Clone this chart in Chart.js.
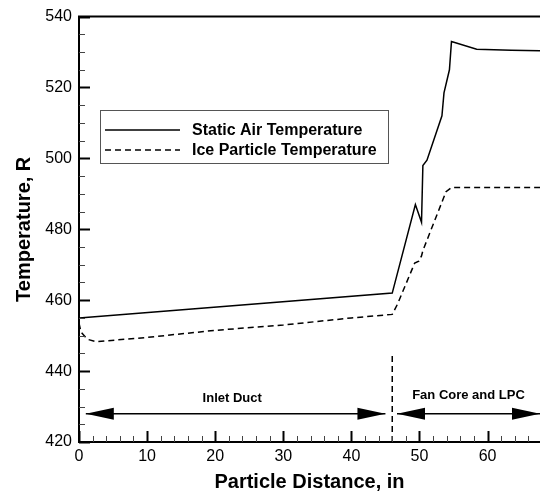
<!DOCTYPE html>
<html>
<head>
<meta charset="utf-8">
<script src="https://cdn.jsdelivr.net/npm/chart.js@4.4.0/dist/chart.umd.min.js"></script>
<style>
  html, body { margin: 0; padding: 0; background: #fff; }
</style>
</head>
<body>
<canvas id="tempChart" width="540" height="495"></canvas>
<script>
// data
const airX = [0, 46, 49.4, 50.3, 50.5, 51.1, 53.3, 53.6, 54.4, 54.7, 58.4, 63.5, 67.7];
const airY = [455, 462, 487, 482, 498, 499.5, 512, 518.5, 525, 533, 530.8, 530.5, 530.4];

const iceX = [0, 0.3, 1.2, 2.5, 10, 20, 30, 40, 46, 46.8, 49.3, 49.9, 50.3, 50.5, 53.9, 54.7, 67.7];
const iceY = [453.5, 451, 449, 448.3, 449.5, 451.5, 453, 455, 456, 459, 470.5, 471, 472.5, 474, 490.6, 491.8, 491.8];

// section divider and arrows
const dividerX = [46, 46];
const dividerY = [420, 444.5];
const arrowY = 428;
const arrowSpans = [[1, 45], [46.7, 67.7]];
const regionLabels = ["Inlet Duct", "Fan Core and LPC"];
const regionLabelX = [22.5, 57.2];
const regionLabelY = [432.2, 433];

const xTicks = [0, 10, 20, 30, 40, 50, 60];
const yTicks = [420, 440, 460, 480, 500, 520, 540];

const FONT = "'Liberation Sans', Arial, sans-serif";

const toPoints = (xs, ys) => xs.map((x, i) => ({ x: x, y: ys[i] }));

// axis ticks (inward), top border, arrows, labels and legend box
const decorations = {
    id: "decorations",
    afterDatasetsDraw(chart) {
        const { ctx, chartArea: a, scales: { x, y } } = chart;
        ctx.save();

        // top frame line
        ctx.strokeStyle = "#000";
        ctx.lineWidth = 2;
        ctx.beginPath();
        ctx.moveTo(a.left - 1, a.top);
        ctx.lineTo(a.right, a.top);
        ctx.stroke();

        // x ticks: major every 10, minor every 2
        for (let i = 0; i * 2 <= x.max; i++) {
            const v = i * 2;
            const px = Math.round(x.getPixelForValue(v)) + 0.5;
            const major = v % 10 === 0;
            ctx.strokeStyle = major ? "#000" : "#444";
            ctx.lineWidth = major ? 2 : 1;
            ctx.beginPath();
            ctx.moveTo(px, a.bottom);
            ctx.lineTo(px, a.bottom - (major ? 11 : 6));
            ctx.stroke();
        }
        // y ticks: major every 20, minor every 5
        for (let v = 420; v <= 540; v += 5) {
            const py = Math.round(y.getPixelForValue(v)) + 0.5;
            const major = v % 20 === 0;
            ctx.strokeStyle = major ? "#000" : "#444";
            ctx.lineWidth = major ? 2 : 1;
            ctx.beginPath();
            ctx.moveTo(a.left, py);
            ctx.lineTo(a.left + (major ? 11 : 6), py);
            ctx.stroke();
        }

        // double-headed arrows
        ctx.fillStyle = "#000";
        ctx.strokeStyle = "#000";
        ctx.lineWidth = 1.5;
        const ay = y.getPixelForValue(arrowY);
        arrowSpans.forEach(([s, e]) => {
            const x1 = x.getPixelForValue(s);
            const x2 = x.getPixelForValue(e);
            ctx.beginPath();
            ctx.moveTo(x1, ay);
            ctx.lineTo(x2, ay);
            ctx.stroke();
            ctx.beginPath();
            ctx.moveTo(x1, ay);
            ctx.lineTo(x1 + 28, ay - 6);
            ctx.lineTo(x1 + 28, ay + 6);
            ctx.closePath();
            ctx.fill();
            ctx.beginPath();
            ctx.moveTo(x2, ay);
            ctx.lineTo(x2 - 28, ay - 6);
            ctx.lineTo(x2 - 28, ay + 6);
            ctx.closePath();
            ctx.fill();
        });

        ctx.font = "bold 13px " + FONT;
        ctx.textAlign = "center";
        ctx.textBaseline = "middle";
        regionLabels.forEach((t, i) => {
            ctx.fillText(t, x.getPixelForValue(regionLabelX[i]), y.getPixelForValue(regionLabelY[i]));
        });

        // legend box
        ctx.fillStyle = "#fff";
        ctx.fillRect(100, 110, 288, 53);
        ctx.strokeStyle = "#555";
        ctx.lineWidth = 1;
        ctx.strokeRect(100.5, 110.5, 288, 53);
        const rows = [130, 150];
        chart.data.datasets.slice(0, 2).forEach((ds, i) => {
            ctx.strokeStyle = "#000";
            ctx.lineWidth = 1.5;
            ctx.setLineDash(ds.borderDash || []);
            ctx.beginPath();
            ctx.moveTo(105, rows[i]);
            ctx.lineTo(180, rows[i]);
            ctx.stroke();
            ctx.setLineDash([]);
            ctx.fillStyle = "#000";
            ctx.font = "bold 16px " + FONT;
            ctx.textAlign = "left";
            ctx.textBaseline = "middle";
            ctx.fillText(ds.label, 192, rows[i] + 1);
        });

        ctx.restore();
    }
};

const ctx = document.getElementById("tempChart").getContext("2d");

const tempChart = new Chart(ctx, {
    type: "line",
    data: {
        datasets: [
            {
                label: "Static Air Temperature",
                data: toPoints(airX, airY),
                borderColor: "#000",
                borderWidth: 1.5,
                pointRadius: 0,
                tension: 0,
                fill: false,
            },
            {
                label: "Ice Particle Temperature",
                data: toPoints(iceX, iceY),
                borderColor: "#000",
                borderWidth: 1.5,
                borderDash: [6, 4],
                pointRadius: 0,
                tension: 0,
                fill: false,
            },
            {
                label: "divider",
                data: toPoints(dividerX, dividerY),
                borderColor: "#000",
                borderWidth: 1.5,
                borderDash: [6, 4],
                pointRadius: 0,
                fill: false,
            },
        ],
    },
    options: {
        responsive: false,
        animation: false,
        layout: { padding: { top: 13, right: 0, left: 0, bottom: 0 } },
        plugins: {
            legend: { display: false },
            tooltip: { enabled: false },
        },
        scales: {
            x: {
                type: "linear",
                min: 0,
                max: 67.7,
                afterFit: (s) => { s.height = 53; },
                afterBuildTicks: (s) => { s.ticks = xTicks.map(v => ({ value: v })); },
                grid: { display: false, drawTicks: false },
                border: { display: true, color: "#000", width: 2 },
                ticks: { color: "#000", font: { family: FONT, size: 16 }, padding: 5 },
                title: {
                    display: true,
                    text: "Particle Distance, in",
                    color: "#000",
                    font: { family: FONT, size: 20, weight: "bold" },
                    padding: { top: 0, bottom: 1 },
                },
            },
            y: {
                min: 420,
                max: 540,
                afterFit: (s) => { s.width = 79; },
                afterBuildTicks: (s) => { s.ticks = yTicks.map(v => ({ value: v })); },
                grid: { display: false, drawTicks: false },
                border: { display: true, color: "#000", width: 2 },
                ticks: { color: "#000", font: { family: FONT, size: 16 }, padding: 7 },
                title: {
                    display: true,
                    text: "Temperature, R",
                    color: "#000",
                    font: { family: FONT, size: 20, weight: "bold" },
                    padding: { top: 12, bottom: 0 },
                },
            },
        },
    },
    plugins: [decorations],
});
</script>
</body>
</html>
